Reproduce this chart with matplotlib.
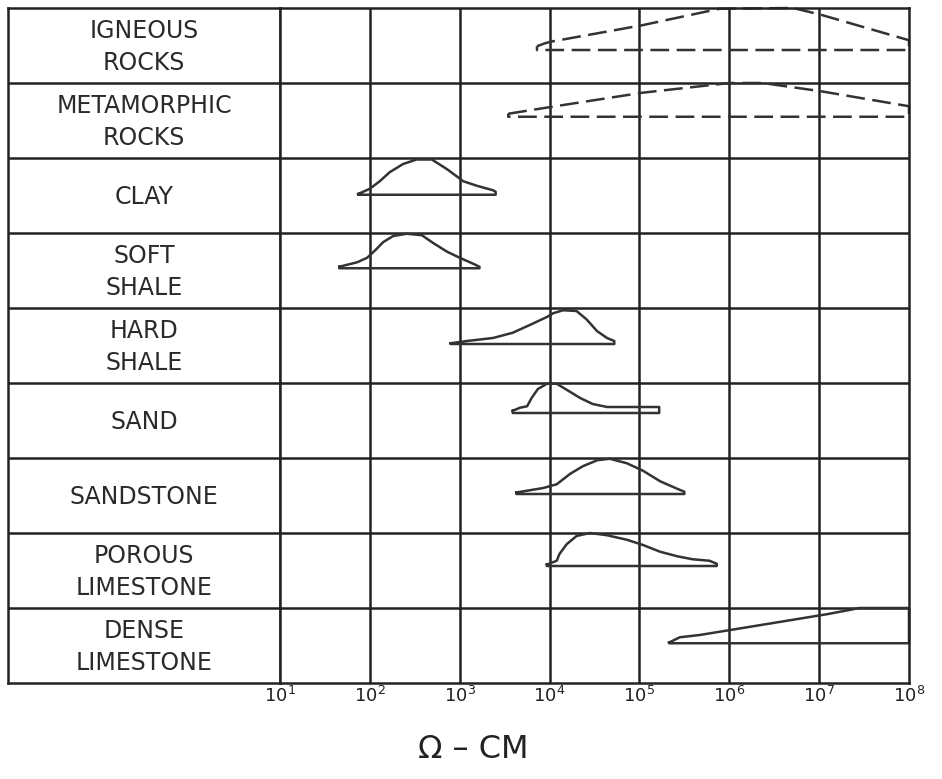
import numpy as np
import matplotlib.pyplot as plt

# row labels, top to bottom
rocks = ["IGNEOUS\nROCKS", "METAMORPHIC\nROCKS", "CLAY", "SOFT\nSHALE", "HARD\nSHALE",
         "SAND", "SANDSTONE", "POROUS\nLIMESTONE", "DENSE\nLIMESTONE"]
decades = [1, 2, 3, 4, 5, 6, 7, 8]

# each profile: x = log10(ohm-cm), y = depth below the row top (fraction of row)
igneous_x = [3.86, 3.95, 4.01, 5.03, 5.89, 6.71, 7.02, 8.0]
igneous_y = [0.51, 0.47, 0.45, 0.23, 0.01, 0.0, 0.09, 0.43]
igneous_base = 0.56

metamorphic_x = [3.54, 4.01, 5.03, 6.0, 6.37, 7.02, 8.0]
metamorphic_y = [0.41, 0.32, 0.13, 0.0, 0.0, 0.11, 0.31]
metamorphic_base = 0.45

clay_x = [1.87, 2.00, 2.11, 2.22, 2.37, 2.52, 2.69, 2.86, 3.04, 3.19, 3.37, 3.40]
clay_y = [0.48, 0.41, 0.31, 0.19, 0.08, 0.02, 0.02, 0.15, 0.31, 0.37, 0.43, 0.45]
clay_base = 0.49

soft_x = [1.66, 1.86, 1.97, 2.06, 2.15, 2.26, 2.41, 2.58, 2.70, 2.86, 3.00, 3.15, 3.22]
soft_y = [0.45, 0.39, 0.33, 0.23, 0.12, 0.04, 0.01, 0.03, 0.13, 0.25, 0.33, 0.41, 0.45]
soft_base = 0.47

hard_x = [2.90, 3.08, 3.37, 3.59, 3.81, 3.97, 4.04, 4.15, 4.30, 4.41, 4.53, 4.64, 4.72]
hard_y = [0.47, 0.44, 0.40, 0.33, 0.21, 0.12, 0.07, 0.03, 0.04, 0.15, 0.31, 0.40, 0.44]
hard_base = 0.48

sand_x = [3.59, 3.67, 3.75, 3.80, 3.87, 3.97, 4.08, 4.19, 4.34, 4.48, 4.64, 5.22]
sand_y = [0.37, 0.33, 0.31, 0.20, 0.08, 0.01, 0.01, 0.09, 0.20, 0.28, 0.32, 0.32]
sand_base = 0.40

sandstone_x = [3.63, 3.78, 3.93, 4.08, 4.23, 4.37, 4.53, 4.67, 4.86, 5.04, 5.23, 5.42, 5.50]
sandstone_y = [0.46, 0.43, 0.40, 0.35, 0.21, 0.11, 0.03, 0.01, 0.07, 0.17, 0.31, 0.41, 0.45]
sandstone_base = 0.48

porous_x = [3.97, 4.08, 4.11, 4.19, 4.30, 4.45, 4.64, 4.86, 5.04, 5.23, 5.42, 5.59, 5.78, 5.86]
porous_y = [0.42, 0.37, 0.28, 0.15, 0.04, 0.0, 0.03, 0.09, 0.16, 0.25, 0.31, 0.35, 0.37, 0.41]
porous_base = 0.44

dense_x = [5.33, 5.45, 5.67, 6.08, 7.10, 7.45, 8.0]
dense_y = [0.46, 0.39, 0.36, 0.28, 0.08, 0.0, 0.0]
dense_base = 0.47

profiles = [
    (igneous_x, igneous_y, igneous_base, True),
    (metamorphic_x, metamorphic_y, metamorphic_base, True),
    (clay_x, clay_y, clay_base, False),
    (soft_x, soft_y, soft_base, False),
    (hard_x, hard_y, hard_base, False),
    (sand_x, sand_y, sand_base, False),
    (sandstone_x, sandstone_y, sandstone_base, False),
    (porous_x, porous_y, porous_base, False),
    (dense_x, dense_y, dense_base, False),
]

ink = "#222222"
n = len(rocks)

fig = plt.figure(figsize=(9.42, 7.79), dpi=100)
fig.patch.set_facecolor("white")

# label column
lab = fig.add_axes([8 / 942, 1 - 683 / 779, 272 / 942, 675 / 779])
lab.set_xlim(0, 1)
lab.set_ylim(n, 0)
lab.set_xticks([])
lab.set_yticks([])
for s in lab.spines.values():
    s.set_linewidth(1.8)
    s.set_color(ink)
for i in range(1, n):
    lab.axhline(i, color=ink, lw=1.8)
for i, name in enumerate(rocks):
    lab.text(0.5, i + 0.52, name, ha="center", va="center", fontsize=17,
             color="#2a2a2a", linespacing=1.45, family="DejaVu Sans")

# resistivity chart
ax = fig.add_axes([280 / 942, 1 - 683 / 779, 629 / 942, 675 / 779])
ax.set_xscale("log")
ax.set_xlim(10, 1e8)
ax.set_ylim(n, 0)
for s in ax.spines.values():
    s.set_linewidth(1.8)
    s.set_color(ink)
for d in decades[1:-1]:
    ax.axvline(10.0 ** d, color=ink, lw=1.8)
for i in range(1, n):
    ax.axhline(i, color=ink, lw=1.8)

for i, (px, py, base, dashed) in enumerate(profiles):
    xs = list(px) + [px[-1], px[0], px[0]]
    ys = list(py) + [base, base, py[0]]
    xs = [10.0 ** v for v in xs]
    ys = [i + v for v in ys]
    ax.plot(xs, ys, color="#333333", lw=1.8, solid_joinstyle="round",
            linestyle=(0, (7.5, 3)) if dashed else "-", clip_on=False)

ax.set_xticks([10.0 ** d for d in decades])
ax.set_xticklabels([r"$10^{%d}$" % d for d in decades], fontsize=13, color=ink)
ax.set_yticks([])
ax.tick_params(axis="x", length=0, pad=2)
ax.minorticks_off()

fig.text(473 / 942, 1 - 750 / 779, "\u03a9 \u2013 CM", ha="center", va="center",
         fontsize=23, color=ink)

fig.savefig("out.png", dpi=100, facecolor="white")
